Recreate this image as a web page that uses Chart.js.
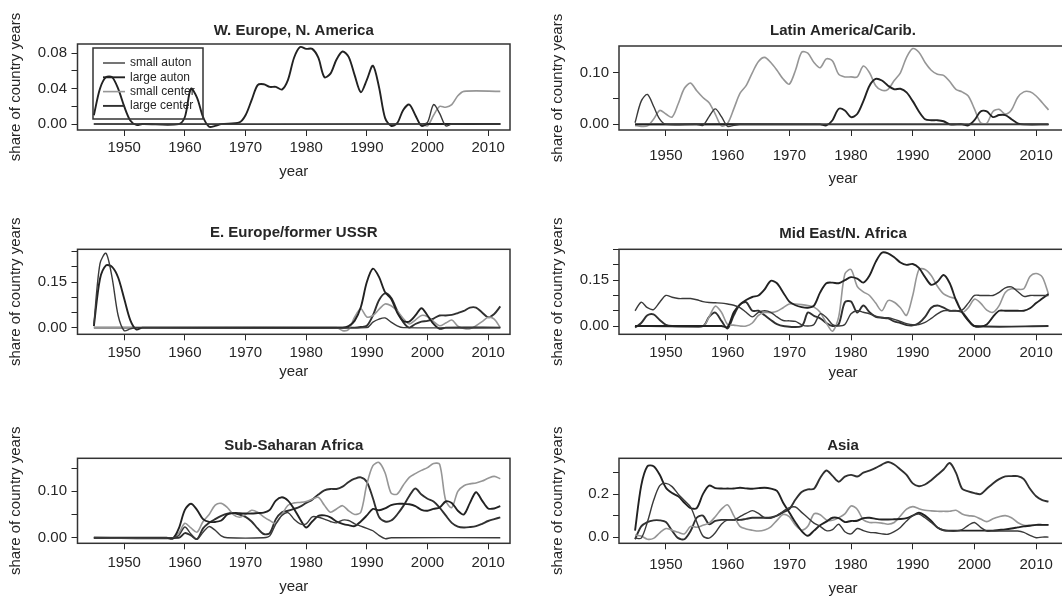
<!DOCTYPE html>
<html lang="en">
<head>
  <meta charset="UTF-8">
  <title>Share of country years by region</title>
  <script src="https://cdn.jsdelivr.net/npm/chart.js"></script>
  <style>
    html, body {
      margin: 0;
      padding: 0;
      background: #fff;
      overflow: hidden;
    }

    body {
      position: relative;
      width: 1062px;
      height: 597px;
    }

    canvas {
      position: absolute;
    }
  </style>
</head>

<body>
  <canvas id="we" width="531" height="200" style="left:0;top:0"></canvas>
  <canvas id="la" width="560" height="200" style="left:531px;top:0"></canvas>
  <canvas id="ee" width="531" height="200" style="left:0;top:200px"></canvas>
  <canvas id="me" width="560" height="200" style="left:531px;top:200px"></canvas>
  <canvas id="ss" width="531" height="200" style="left:0;top:400px"></canvas>
  <canvas id="as" width="560" height="200" style="left:531px;top:400px"></canvas>
  <script>
    const FONT = "'Liberation Sans', Arial, Helvetica, sans-serif";
    const INK = '#262626';

    const seriesNames = ['small auton', 'large auton', 'small center', 'large center'];
    const xTicks = [1950, 1960, 1970, 1980, 1990, 2000, 2010];

    // W. Europe, N. America  ([year, share])
    const weSmallAuton = [[1945, 0], [1999, 0], [2000, 0.002], [2001, 0.022], [2002, 0.012], [2003, -0.002], [2004, 0], [2012, 0]];
    const weLargeAuton = [[1945, 0.01], [1946, 0.04], [1947, 0.053], [1948, 0.053], [1949, 0.04], [1950, 0.02], [1951, 0.004], [1952, -0.001], [1953, 0], [1959, 0], [1960, 0.008], [1961, 0.04], [1962, 0.03], [1963, 0.008], [1964, -0.003], [1965, -0.002], [1966, 0], [1969, 0.002], [1970, 0.01], [1971, 0.027], [1972, 0.044], [1973, 0.045], [1974, 0.042], [1975, 0.042], [1976, 0.039], [1977, 0.05], [1978, 0.075], [1979, 0.087], [1980, 0.085], [1981, 0.085], [1982, 0.075], [1983, 0.053], [1984, 0.057], [1985, 0.073], [1986, 0.082], [1987, 0.076], [1988, 0.055], [1989, 0.036], [1990, 0.05], [1991, 0.066], [1992, 0.042], [1993, 0.007], [1994, -0.002], [1995, 0.001], [1996, 0.016], [1997, 0.022], [1998, 0.01], [1999, -0.002], [2000, 0], [2012, 0]];
    const weSmallCenter = [[1945, 0], [1999, 0], [2000, -0.002], [2001, 0.01], [2002, 0.02], [2003, 0.019], [2004, 0.022], [2005, 0.032], [2006, 0.037], [2012, 0.037]];
    const weLargeCenter = [[1945, 0], [2012, 0]];
    const weTicks = [0, 0.02, 0.04, 0.06, 0.08];
    const weTickLabels = ['0.00', '', '0.04', '', '0.08'];

    // Latin America/Carib.
    const laSmallAuton = [[1945, 0.003], [1946, 0.045], [1947, 0.058], [1948, 0.035], [1949, 0.01], [1950, 0], [1955, 0], [1956, -0.002], [1957, 0.015], [1958, 0.03], [1959, 0.015], [1960, -0.004], [1961, -0.002], [1962, 0], [2012, 0]];
    const laLargeAuton = [[1945, 0], [1975, 0], [1976, -0.002], [1977, 0.008], [1978, 0.03], [1979, 0.027], [1980, 0.014], [1981, 0.02], [1982, 0.045], [1983, 0.075], [1984, 0.088], [1985, 0.085], [1986, 0.075], [1987, 0.068], [1988, 0.069], [1989, 0.062], [1990, 0.045], [1991, 0.025], [1992, 0.01], [1993, 0.008], [1994, 0.008], [1995, 0.006], [1996, 0], [1998, 0], [1999, -0.002], [2000, 0.008], [2001, 0.025], [2002, 0.025], [2003, 0.014], [2004, 0.018], [2005, 0.018], [2006, 0.01], [2007, 0.002], [2008, 0], [2012, 0]];
    const laSmallCenter = [[1945, -0.002], [1946, -0.004], [1947, -0.003], [1948, 0.01], [1949, 0.027], [1950, 0.02], [1951, 0.014], [1952, 0.04], [1953, 0.07], [1954, 0.08], [1955, 0.065], [1956, 0.052], [1957, 0.042], [1958, 0.02], [1959, -0.003], [1960, 0.002], [1961, 0.03], [1962, 0.06], [1963, 0.075], [1964, 0.1], [1965, 0.122], [1966, 0.13], [1967, 0.12], [1968, 0.105], [1969, 0.088], [1970, 0.078], [1971, 0.105], [1972, 0.14], [1973, 0.138], [1974, 0.12], [1975, 0.11], [1976, 0.127], [1977, 0.123], [1978, 0.097], [1979, 0.092], [1980, 0.092], [1981, 0.092], [1982, 0.113], [1983, 0.1], [1984, 0.075], [1985, 0.066], [1986, 0.068], [1987, 0.085], [1988, 0.1], [1989, 0.13], [1990, 0.147], [1991, 0.14], [1992, 0.12], [1993, 0.105], [1994, 0.097], [1995, 0.095], [1996, 0.083], [1997, 0.068], [1998, 0.063], [1999, 0.055], [2000, 0.03], [2001, 0.003], [2002, 0.002], [2003, 0.025], [2004, 0.029], [2005, 0.02], [2006, 0.028], [2007, 0.052], [2008, 0.063], [2009, 0.063], [2010, 0.055], [2011, 0.042], [2012, 0.028]];
    const laLargeCenter = [[1945, 0], [2012, 0]];
    const laTicks = [0, 0.05, 0.10];
    const laTickLabels = ['0.00', '', '0.10'];

    // E. Europe/former USSR
    const eeSmallAuton = [[1945, 0.012], [1946, 0.21], [1947, 0.245], [1948, 0.165], [1949, 0.04], [1950, -0.01], [1951, -0.004], [1952, 0], [1990, 0], [1991, 0.018], [1992, 0.028], [1993, 0.032], [1994, 0.018], [1995, 0.006], [1996, 0], [2012, 0]];
    const eeLargeAuton = [[1945, 0.005], [1946, 0.16], [1947, 0.205], [1948, 0.2], [1949, 0.165], [1950, 0.095], [1951, 0.025], [1952, -0.006], [1953, 0], [1986, 0], [1987, 0.005], [1988, 0.023], [1989, 0.067], [1990, 0.15], [1991, 0.194], [1992, 0.167], [1993, 0.117], [1994, 0.095], [1995, 0.05], [1996, 0.022], [1997, 0.02], [1998, 0.04], [1999, 0.064], [2000, 0.04], [2001, 0.012], [2002, -0.004], [2003, 0], [2012, 0]];
    const eeSmallCenter = [[1945, 0], [1985, 0], [1986, -0.01], [1987, -0.006], [1988, 0.035], [1989, 0.062], [1990, 0.035], [1991, 0.04], [1992, 0.06], [1993, 0.078], [1994, 0.072], [1995, 0.055], [1996, 0.03], [1997, 0.012], [1998, 0.025], [1999, 0.04], [2000, 0.036], [2001, 0.02], [2002, 0.006], [2003, 0.015], [2004, 0.025], [2005, 0.005], [2006, -0.003], [2007, -0.004], [2008, 0.006], [2009, 0.02], [2010, 0.034], [2011, 0.028], [2012, 0]];
    const eeLargeCenter = [[1945, 0], [1988, 0], [1989, 0.002], [1990, 0.006], [1991, 0.04], [1992, 0.09], [1993, 0.113], [1994, 0.098], [1995, 0.056], [1996, 0.018], [1997, 0], [1998, 0.012], [1999, 0.02], [2000, 0.022], [2001, 0.03], [2002, 0.04], [2003, 0.04], [2004, 0.042], [2005, 0.048], [2006, 0.055], [2007, 0.066], [2008, 0.066], [2009, 0.05], [2010, 0.034], [2011, 0.045], [2012, 0.07]];
    const eeTicks = [0, 0.05, 0.10, 0.15, 0.20, 0.25];
    const eeTickLabels = ['0.00', '', '', '0.15', '', ''];

    // Mid East/N. Africa
    const meSmallAuton = [[1945, 0.05], [1946, 0.078], [1947, 0.06], [1948, 0.054], [1949, 0.078], [1950, 0.1], [1951, 0.094], [1952, 0.09], [1953, 0.09], [1954, 0.09], [1955, 0.086], [1956, 0.08], [1957, 0.077], [1958, 0.076], [1959, 0.075], [1960, 0.072], [1961, 0.068], [1962, 0.06], [1963, 0.045], [1964, 0.03], [1965, 0.045], [1966, 0.05], [1967, 0.045], [1968, 0.03], [1969, 0.018], [1970, 0.017], [1971, 0.015], [1972, 0.004], [1973, 0], [1974, 0.005], [1975, 0.04], [1976, 0.028], [1977, 0.005], [1978, 0], [1979, 0.005], [1980, 0.04], [1981, 0.05], [1982, 0.045], [1983, 0.04], [1984, 0.032], [1985, 0.028], [1986, 0.027], [1987, 0.022], [1988, 0.015], [1989, 0.008], [1990, 0.004], [1991, 0.005], [1992, 0.012], [1993, 0.025], [1994, 0.04], [1995, 0.05], [1996, 0.05], [1997, 0.05], [1998, 0.052], [1999, 0.075], [2000, 0.1], [2001, 0.1], [2002, 0.1], [2003, 0.1], [2004, 0.11], [2005, 0.125], [2006, 0.128], [2007, 0.113], [2008, 0.097], [2009, 0.1], [2010, 0.1], [2011, 0.1], [2012, 0.1]];
    const meLargeAuton = [[1945, 0], [1959, 0], [1960, -0.003], [1961, 0.045], [1962, 0.07], [1963, 0.085], [1964, 0.095], [1965, 0.1], [1966, 0.12], [1967, 0.148], [1968, 0.14], [1969, 0.11], [1970, 0.08], [1971, 0.068], [1972, 0.062], [1973, 0.06], [1974, 0.067], [1975, 0.11], [1976, 0.14], [1977, 0.142], [1978, 0.14], [1979, 0.15], [1980, 0.16], [1981, 0.155], [1982, 0.142], [1983, 0.165], [1984, 0.21], [1985, 0.24], [1986, 0.238], [1987, 0.225], [1988, 0.208], [1989, 0.2], [1990, 0.203], [1991, 0.19], [1992, 0.16], [1993, 0.135], [1994, 0.145], [1995, 0.167], [1996, 0.14], [1997, 0.085], [1998, 0.045], [1999, 0.018], [2000, 0], [2001, -0.002], [2002, 0.005], [2003, 0.03], [2004, 0.05], [2005, 0.05], [2006, 0.05], [2007, 0.05], [2008, 0.05], [2009, 0.058], [2010, 0.075], [2011, 0.09], [2012, 0.105]];
    const meSmallCenter = [[1945, 0], [1956, 0], [1957, 0.03], [1958, 0.065], [1959, 0.045], [1960, 0.005], [1961, 0.003], [1962, 0], [1963, 0], [1964, 0.01], [1965, 0.035], [1966, 0.044], [1967, 0.044], [1968, 0.048], [1969, 0.06], [1970, 0.072], [1971, 0.072], [1972, 0.07], [1973, 0.067], [1974, 0.062], [1975, 0.045], [1976, 0.01], [1977, -0.017], [1978, 0.03], [1979, 0.17], [1980, 0.185], [1981, 0.13], [1982, 0.112], [1983, 0.1], [1984, 0.075], [1985, 0.05], [1986, 0.083], [1987, 0.078], [1988, 0.06], [1989, 0.035], [1990, 0.1], [1991, 0.185], [1992, 0.185], [1993, 0.165], [1994, 0.13], [1995, 0.105], [1996, 0.095], [1997, 0.088], [1998, 0.045], [1999, 0.06], [2000, 0.088], [2001, 0.075], [2002, 0.052], [2003, 0.045], [2004, 0.067], [2005, 0.11], [2006, 0.122], [2007, 0.12], [2008, 0.122], [2009, 0.162], [2010, 0.172], [2011, 0.16], [2012, 0.105]];
    const meLargeCenter = [[1945, -0.005], [1946, 0.01], [1947, 0.035], [1948, 0.038], [1949, 0.02], [1950, 0.004], [1951, 0], [1956, 0], [1957, 0.03], [1958, 0.044], [1959, 0.017], [1960, -0.008], [1961, 0.035], [1962, 0.07], [1963, 0.078], [1964, 0.05], [1965, 0.05], [1966, 0.035], [1967, 0.02], [1968, 0.006], [1969, 0], [1972, 0], [1973, 0.044], [1974, 0.033], [1975, 0.025], [1976, 0.01], [1977, 0], [1978, 0.006], [1979, 0.078], [1980, 0.08], [1981, 0.044], [1982, 0.067], [1983, 0.045], [1984, 0.03], [1985, 0.027], [1986, 0.025], [1987, 0.015], [1988, 0.01], [1989, 0.003], [1990, 0.002], [1991, 0.01], [1992, 0.03], [1993, 0.06], [1994, 0.067], [1995, 0.06], [1996, 0.05], [1997, 0.05], [1998, 0.045], [1999, 0.02], [2000, 0], [2012, 0]];
    const meTicks = [0, 0.05, 0.10, 0.15, 0.20, 0.25];
    const meTickLabels = ['0.00', '', '', '0.15', '', ''];

    // Sub-Saharan Africa
    const ssSmallAuton = [[1945, 0], [1958, 0], [1959, 0.005], [1960, 0.023], [1961, 0.008], [1962, -0.003], [1963, 0.012], [1964, 0.024], [1965, 0.016], [1966, 0.004], [1967, 0], [1973, 0], [1974, 0.004], [1975, 0.03], [1976, 0.048], [1977, 0.054], [1978, 0.04], [1979, 0.03], [1980, 0.03], [1981, 0.045], [1982, 0.044], [1983, 0.04], [1984, 0.035], [1985, 0.032], [1986, 0.038], [1987, 0.037], [1988, 0.03], [1989, 0.025], [1990, 0.02], [1991, 0.015], [1992, 0.005], [1993, -0.002], [1994, 0], [2012, 0]];
    const ssLargeAuton = [[1945, 0], [1957, 0], [1958, -0.002], [1959, 0.02], [1960, 0.06], [1961, 0.073], [1962, 0.06], [1963, 0.04], [1964, 0.034], [1965, 0.034], [1966, 0.037], [1967, 0.05], [1968, 0.053], [1969, 0.053], [1970, 0.052], [1971, 0.052], [1972, 0.053], [1973, 0.054], [1974, 0.06], [1975, 0.08], [1976, 0.087], [1977, 0.08], [1978, 0.062], [1979, 0.04], [1980, 0.022], [1981, 0.035], [1982, 0.047], [1983, 0.048], [1984, 0.044], [1985, 0.035], [1986, 0.03], [1987, 0.027], [1988, 0.025], [1989, 0.035], [1990, 0.048], [1991, 0.062], [1992, 0.059], [1993, 0.063], [1994, 0.07], [1995, 0.073], [1996, 0.073], [1997, 0.072], [1998, 0.068], [1999, 0.06], [2000, 0.058], [2001, 0.062], [2002, 0.065], [2003, 0.078], [2004, 0.075], [2005, 0.058], [2006, 0.05], [2007, 0.075], [2008, 0.098], [2009, 0.08], [2010, 0.063], [2011, 0.063], [2012, 0.068]];
    const ssSmallCenter = [[1945, 0], [1958, 0], [1959, 0.01], [1960, 0.031], [1961, 0.021], [1962, 0.012], [1963, 0.035], [1964, 0.05], [1965, 0.07], [1966, 0.074], [1967, 0.065], [1968, 0.05], [1969, 0.044], [1970, 0.05], [1971, 0.059], [1972, 0.055], [1973, 0.045], [1974, 0.037], [1975, 0.031], [1976, 0.05], [1977, 0.07], [1978, 0.075], [1979, 0.076], [1980, 0.078], [1981, 0.083], [1982, 0.087], [1983, 0.07], [1984, 0.055], [1985, 0.062], [1986, 0.069], [1987, 0.058], [1988, 0.05], [1989, 0.055], [1990, 0.115], [1991, 0.155], [1992, 0.162], [1993, 0.14], [1994, 0.096], [1995, 0.094], [1996, 0.113], [1997, 0.13], [1998, 0.138], [1999, 0.145], [2000, 0.151], [2001, 0.16], [2002, 0.158], [2003, 0.08], [2004, 0.065], [2005, 0.1], [2006, 0.112], [2007, 0.116], [2008, 0.118], [2009, 0.122], [2010, 0.128], [2011, 0.132], [2012, 0.127]];
    const ssLargeCenter = [[1945, 0], [1959, 0], [1960, 0.01], [1961, 0.005], [1962, -0.003], [1963, 0.02], [1964, 0.032], [1965, 0.04], [1966, 0.047], [1967, 0.052], [1968, 0.053], [1969, 0.05], [1970, 0.045], [1971, 0.035], [1972, 0.02], [1973, 0.008], [1974, 0.01], [1975, 0.04], [1976, 0.055], [1977, 0.058], [1978, 0.062], [1979, 0.067], [1980, 0.075], [1981, 0.082], [1982, 0.093], [1983, 0.102], [1984, 0.105], [1985, 0.105], [1986, 0.11], [1987, 0.12], [1988, 0.127], [1989, 0.13], [1990, 0.12], [1991, 0.085], [1992, 0.045], [1993, 0.035], [1994, 0.037], [1995, 0.05], [1996, 0.068], [1997, 0.09], [1998, 0.106], [1999, 0.093], [2000, 0.084], [2001, 0.078], [2002, 0.065], [2003, 0.048], [2004, 0.032], [2005, 0.024], [2006, 0.022], [2007, 0.023], [2008, 0.025], [2009, 0.03], [2010, 0.036], [2011, 0.04], [2012, 0.044]];
    const ssTicks = [0, 0.05, 0.10, 0.15];
    const ssTickLabels = ['0.00', '', '0.10', ''];

    // Asia
    const asSmallAuton = [[1945, -0.005], [1946, -0.005], [1947, 0.07], [1948, 0.17], [1949, 0.24], [1950, 0.25], [1951, 0.235], [1952, 0.2], [1953, 0.17], [1954, 0.14], [1955, 0.07], [1956, 0.005], [1957, -0.005], [1958, 0.02], [1959, 0.06], [1960, 0.08], [1961, 0.08], [1962, 0.095], [1963, 0.11], [1964, 0.123], [1965, 0.11], [1966, 0.09], [1967, 0.088], [1968, 0.1], [1969, 0.12], [1970, 0.137], [1971, 0.14], [1972, 0.115], [1973, 0.09], [1974, 0.065], [1975, 0.05], [1976, 0.03], [1977, 0.035], [1978, 0.06], [1979, 0.025], [1980, 0.015], [1981, 0.04], [1982, 0.03], [1983, 0.022], [1984, 0.02], [1985, 0.015], [1986, 0.013], [1987, 0.025], [1988, 0.045], [1989, 0.075], [1990, 0.1], [1991, 0.107], [1992, 0.09], [1993, 0.068], [1994, 0.045], [1995, 0.032], [1996, 0.028], [1997, 0.028], [1998, 0.035], [1999, 0.055], [2000, 0.068], [2001, 0.045], [2002, 0.028], [2003, 0.028], [2004, 0.028], [2005, 0.028], [2006, 0.028], [2007, 0.028], [2008, 0.022], [2009, 0.008], [2010, -0.003], [2011, 0], [2012, 0]];
    const asLargeAuton = [[1945, 0.03], [1946, 0.24], [1947, 0.33], [1948, 0.33], [1949, 0.29], [1950, 0.23], [1951, 0.205], [1952, 0.19], [1953, 0.16], [1954, 0.135], [1955, 0.135], [1956, 0.2], [1957, 0.24], [1958, 0.228], [1959, 0.226], [1960, 0.226], [1961, 0.226], [1962, 0.23], [1963, 0.227], [1964, 0.225], [1965, 0.228], [1966, 0.23], [1967, 0.226], [1968, 0.215], [1969, 0.16], [1970, 0.115], [1971, 0.068], [1972, 0.028], [1973, 0.006], [1974, 0.03], [1975, 0.055], [1976, 0.072], [1977, 0.09], [1978, 0.088], [1979, 0.07], [1980, 0.075], [1981, 0.076], [1982, 0.088], [1983, 0.09], [1984, 0.085], [1985, 0.082], [1986, 0.082], [1987, 0.083], [1988, 0.084], [1989, 0.088], [1990, 0.1], [1991, 0.113], [1992, 0.1], [1993, 0.075], [1994, 0.045], [1995, 0.032], [1996, 0.03], [1997, 0.03], [1998, 0.03], [1999, 0.03], [2000, 0.03], [2001, 0.03], [2002, 0.03], [2003, 0.03], [2004, 0.033], [2005, 0.036], [2006, 0.04], [2007, 0.045], [2008, 0.05], [2009, 0.053], [2010, 0.057], [2011, 0.057], [2012, 0.057]];
    const asSmallCenter = [[1945, 0.01], [1946, 0.005], [1947, -0.01], [1948, -0.006], [1949, 0.02], [1950, 0.04], [1951, 0.032], [1952, 0.022], [1953, 0.015], [1954, 0.05], [1955, 0.046], [1956, 0.055], [1957, 0.065], [1958, 0.095], [1959, 0.13], [1960, 0.15], [1961, 0.1], [1962, 0.05], [1963, 0.038], [1964, 0.032], [1965, 0.028], [1966, 0.033], [1967, 0.048], [1968, 0.078], [1969, 0.105], [1970, 0.095], [1971, 0.055], [1972, 0.032], [1973, 0.05], [1974, 0.108], [1975, 0.104], [1976, 0.08], [1977, 0.078], [1978, 0.09], [1979, 0.108], [1980, 0.145], [1981, 0.13], [1982, 0.08], [1983, 0.068], [1984, 0.068], [1985, 0.065], [1986, 0.06], [1987, 0.068], [1988, 0.098], [1989, 0.13], [1990, 0.142], [1991, 0.132], [1992, 0.125], [1993, 0.122], [1994, 0.12], [1995, 0.12], [1996, 0.12], [1997, 0.125], [1998, 0.108], [1999, 0.1], [2000, 0.097], [2001, 0.084], [2002, 0.072], [2003, 0.085], [2004, 0.095], [2005, 0.1], [2006, 0.09], [2007, 0.068], [2008, 0.055], [2009, 0.055], [2010, 0.056], [2011, 0.057], [2012, 0.057]];
    const asLargeCenter = [[1945, -0.01], [1946, 0.05], [1947, 0.07], [1948, 0.078], [1949, 0.078], [1950, 0.07], [1951, 0.03], [1952, -0.005], [1953, -0.01], [1954, 0.028], [1955, 0.09], [1956, 0.1], [1957, 0.06], [1958, 0.075], [1959, 0.08], [1960, 0.08], [1961, 0.08], [1962, 0.08], [1963, 0.085], [1964, 0.09], [1965, 0.09], [1966, 0.09], [1967, 0.092], [1968, 0.1], [1969, 0.115], [1970, 0.13], [1971, 0.175], [1972, 0.21], [1973, 0.222], [1974, 0.225], [1975, 0.275], [1976, 0.31], [1977, 0.285], [1978, 0.258], [1979, 0.282], [1980, 0.29], [1981, 0.282], [1982, 0.3], [1983, 0.31], [1984, 0.322], [1985, 0.338], [1986, 0.35], [1987, 0.338], [1988, 0.315], [1989, 0.29], [1990, 0.25], [1991, 0.237], [1992, 0.245], [1993, 0.265], [1994, 0.29], [1995, 0.315], [1996, 0.345], [1997, 0.3], [1998, 0.225], [1999, 0.213], [2000, 0.205], [2001, 0.2], [2002, 0.225], [2003, 0.25], [2004, 0.27], [2005, 0.283], [2006, 0.284], [2007, 0.284], [2008, 0.27], [2009, 0.225], [2010, 0.19], [2011, 0.172], [2012, 0.165]];
    const asTicks = [0, 0.1, 0.2, 0.3];
    const asTickLabels = ['0.0', '', '0.2', ''];

    const lineColors = ['#3a3a3a', '#222222', '#969696', '#303030'];
    const lineWidths = [1.4, 1.9, 1.6, 1.9];

    // box round the plot area, like R's bty="o"
    const frameBox = {
      id: 'frameBox',
      afterDatasetsDraw(chart) {
        const { ctx, chartArea: a } = chart;
        ctx.save();
        ctx.strokeStyle = '#333';
        ctx.lineWidth = 1.5;
        ctx.strokeRect(a.left, a.top, a.right - a.left, a.bottom - a.top);
        ctx.restore();
      }
    };

    // legend drawn inside the first panel
    const insetLegend = {
      id: 'insetLegend',
      afterDatasetsDraw(chart) {
        const { ctx, chartArea: a } = chart;
        const x0 = a.left + 15.5;
        const y0 = a.top + 4;
        ctx.save();
        ctx.strokeStyle = '#333';
        ctx.lineWidth = 1.5;
        ctx.strokeRect(x0, y0, 110, 71);
        ctx.font = '12px ' + FONT;
        ctx.fillStyle = INK;
        ctx.textBaseline = 'middle';
        chart.data.datasets.forEach((ds, i) => {
          const y = y0 + 15 + i * 14.3;
          ctx.strokeStyle = ds.borderColor;
          ctx.lineWidth = ds.borderWidth;
          ctx.beginPath();
          ctx.moveTo(x0 + 10, y);
          ctx.lineTo(x0 + 32, y);
          ctx.stroke();
          ctx.fillText(ds.label, x0 + 37, y);
        });
        ctx.restore();
      }
    };

    const leftCol = { xMin: 1942.3, xMax: 2013.6, padRight: 21, yAxisW: 77.5, yTitlePad: 6.5, yTickPad: 4.5 };
    const rightCol = { xMin: 1942.4, xMax: 2015, padRight: 24, yAxisW: 88, yTitlePad: 17.5, yTickPad: 4 };

    function makePanel(id, title, series, yMin, yMax, yTicks, yLabels, frame, withLegend) {
      const datasets = series.map((pts, i) => ({
        label: seriesNames[i],
        data: pts,
        borderColor: lineColors[i],
        borderWidth: lineWidths[i],
        pointRadius: 0,
        tension: 0.3,
        fill: false
      }));
      const plugins = [frameBox];
      if (withLegend) plugins.push(insetLegend);

      new Chart(document.getElementById(id), {
        type: 'line',
        data: { datasets },
        plugins,
        options: {
          responsive: false,
          animation: false,
          devicePixelRatio: 1,
          events: [],
          layout: { padding: { top: frame.padTop, right: frame.padRight, bottom: 0, left: 0 } },
          plugins: {
            legend: { display: false },
            tooltip: { enabled: false },
            title: {
              display: true,
              fullSize: false,
              text: title,
              color: INK,
              font: { family: FONT, size: 15, weight: 'bold' },
              padding: { top: 0, bottom: frame.titleGap }
            }
          },
          scales: {
            x: {
              type: 'linear',
              bounds: 'data',
              min: frame.xMin,
              max: frame.xMax,
              afterBuildTicks: s => { s.ticks = xTicks.map(v => ({ value: v })); },
              afterFit: s => { s.height = frame.xAxisH; },
              grid: { drawOnChartArea: false, drawTicks: true, tickLength: 6, color: INK, lineWidth: 1 },
              border: { display: false },
              ticks: {
                autoSkip: false,
                maxRotation: 0,
                padding: frame.xTickPad,
                color: INK,
                font: { family: FONT, size: 15 },
                callback: v => String(v)
              },
              title: {
                display: true,
                text: 'year',
                color: INK,
                font: { family: FONT, size: 15 },
                padding: { top: 0, bottom: frame.xTitlePad }
              }
            },
            y: {
              type: 'linear',
              bounds: 'data',
              min: yMin,
              max: yMax,
              afterBuildTicks: s => { s.ticks = yTicks.map(v => ({ value: v })); },
              afterFit: s => { s.width = frame.yAxisW; },
              grid: { drawOnChartArea: false, drawTicks: true, tickLength: 6, color: INK, lineWidth: 1 },
              border: { display: false },
              ticks: {
                autoSkip: false,
                padding: frame.yTickPad,
                color: INK,
                font: { family: FONT, size: 15 },
                callback: (v, i) => yLabels[i]
              },
              title: {
                display: true,
                text: 'share of country years',
                color: INK,
                font: { family: FONT, size: 15 },
                padding: { top: frame.yTitlePad, bottom: 0 }
              }
            }
          }
        }
      });
    }

    makePanel('we', 'W. Europe, N. America', [weSmallAuton, weLargeAuton, weSmallCenter, weLargeCenter],
      -0.0067, 0.0905, weTicks, weTickLabels,
      { ...leftCol, padTop: 22, titleGap: 4, xAxisH: 70, xTickPad: 3.3, xTitlePad: 19 }, true);
    makePanel('la', 'Latin America/Carib.', [laSmallAuton, laLargeAuton, laSmallCenter, laLargeCenter],
      -0.011, 0.152, laTicks, laTickLabels,
      { ...rightCol, padTop: 22, titleGap: 6, xAxisH: 70, xTickPad: 10.7, xTitlePad: 12 });
    makePanel('ee', 'E. Europe/former USSR', [eeSmallAuton, eeLargeAuton, eeSmallCenter, eeLargeCenter],
      -0.022, 0.258, eeTicks, eeTickLabels,
      { ...leftCol, padTop: 24.3, titleGap: 7, xAxisH: 65.7, xTickPad: 3.4, xTitlePad: 19 });
    makePanel('me', 'Mid East/N. Africa', [meSmallAuton, meLargeAuton, meSmallCenter, meLargeCenter],
      -0.027, 0.251, meTicks, meTickLabels,
      { ...rightCol, padTop: 25, titleGap: 6.3, xAxisH: 65.7, xTickPad: 3.4, xTitlePad: 18 });
    makePanel('ss', 'Sub-Saharan Africa', [ssSmallAuton, ssLargeAuton, ssSmallCenter, ssLargeCenter],
      -0.012, 0.171, ssTicks, ssTickLabels,
      { ...leftCol, padTop: 36.7, titleGap: 3.6, xAxisH: 56.7, xTickPad: 5, xTitlePad: 4 });
    makePanel('as', 'Asia', [asSmallAuton, asLargeAuton, asSmallCenter, asLargeCenter],
      -0.029, 0.367, asTicks, asTickLabels,
      { ...rightCol, padTop: 37, titleGap: 3.3, xAxisH: 56.7, xTickPad: 6.7, xTitlePad: 2 });
  </script>
</body>

</html>
